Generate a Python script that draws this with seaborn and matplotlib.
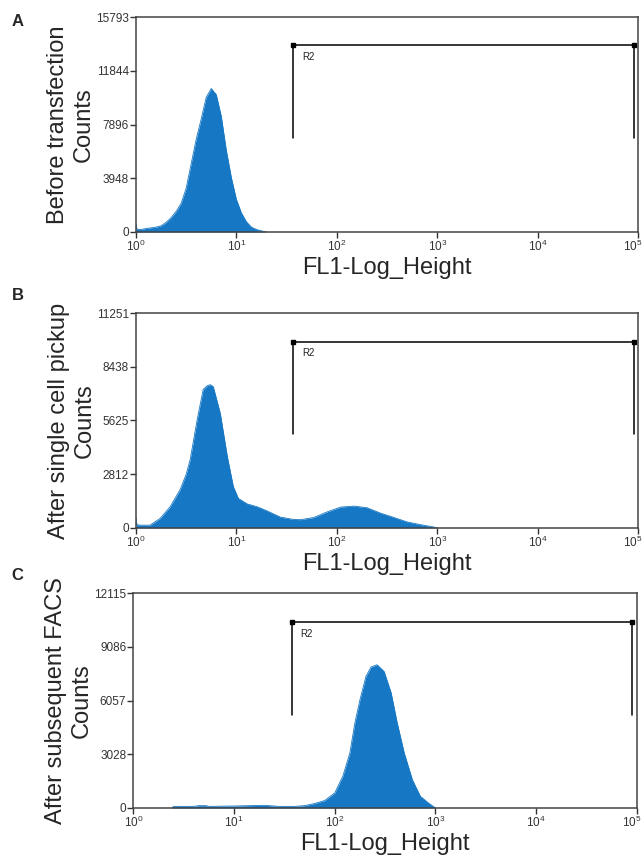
import numpy as np
import seaborn as sns
import matplotlib.pyplot as plt
import matplotlib.transforms as mtransforms

# histogram outlines: log10(FL1) and counts
a_log = [0.0, 0.01, 0.05, 0.10, 0.15, 0.20, 0.25, 0.30, 0.35, 0.40, 0.45, 0.50, 0.55, 0.60,
         0.65, 0.70, 0.75, 0.80, 0.85, 0.90, 0.95, 1.00, 1.05, 1.10, 1.15, 1.20, 1.25, 1.30]
a_cnt = [600, 200, 180, 250, 300, 350, 450, 700, 1050, 1500, 2100, 3200, 5000, 6800,
         8300, 9900, 10550, 10100, 8500, 6000, 4000, 2400, 1400, 750, 350, 180, 80, 0]

b_log = [0.0, 0.01, 0.05, 0.14, 0.24, 0.34, 0.44, 0.50, 0.54, 0.61, 0.67, 0.71, 0.74, 0.77,
         0.84, 0.91, 0.97, 1.02, 1.11, 1.21, 1.30, 1.44, 1.57, 1.64, 1.77, 1.90, 2.04, 2.17,
         2.30, 2.43, 2.57, 2.70, 2.83, 2.96, 3.0]
b_cnt = [540, 160, 140, 140, 490, 1100, 2000, 2800, 3560, 5670, 7250, 7450, 7500, 7400,
         6000, 3740, 2160, 1540, 1250, 1100, 900, 560, 440, 430, 540, 830, 1090, 1140,
         1055, 780, 540, 310, 170, 50, 0]

c_log = [0.38, 0.40, 0.60, 0.65, 0.72, 0.75, 1.00, 1.30, 1.45, 1.60, 1.70, 1.80, 1.90, 2.00,
         2.08, 2.15, 2.20, 2.25, 2.31, 2.36, 2.42, 2.49, 2.56, 2.62, 2.69, 2.77, 2.85, 2.93, 3.0]
c_cnt = [0, 90, 90, 130, 130, 90, 110, 150, 90, 90, 130, 250, 420, 850,
         1790, 3100, 4800, 6100, 7430, 7950, 8080, 7700, 6490, 4800, 3100, 1600, 660, 280, 0]

panel_letters = ["A", "B", "C"]
row_titles = ["Before transfection", "After single cell pickup", "After subsequent FACS"]
y_tops = [15793, 11251, 12115]
y_ticks = [[0, 3948, 7896, 11844, 15793],
           [0, 2812, 5625, 8438, 11251],
           [0, 3028, 6057, 9086, 12115]]
gate_x = [[37, 91000], [37, 91000], [37.4, 90200]]
gate_y = [[6905, 13736], [4917, 9761], [5257, 10514]]
x_ticks = [1, 10, 100, 1000, 10000, 100000]
x_ticklabels = [r"$\mathregular{10^{%d}}$" % i for i in range(6)]

sns.set_style("ticks")
plt.rcParams['font.family'] = ['Liberation Sans', 'DejaVu Sans']
plt.rcParams['mathtext.fontset'] = 'custom'
plt.rcParams['mathtext.rm'] = 'Liberation Sans'

fill_col = "#1677c4"
fig = plt.figure(figsize=(6.44, 8.59), dpi=100)
positions = [[0.211, 0.730, 0.780, 0.250],
             [0.211, 0.3855, 0.780, 0.250],
             [0.207, 0.0594, 0.782, 0.250]]
letter_y = [1 - 21 / 859, 1 - 296 / 859, 1 - 576 / 859]
hists = [(a_log, a_cnt), (b_log, b_cnt), (c_log, c_cnt)]

for i in range(3):
    ax = fig.add_axes(positions[i])
    lg, cnt = hists[i]
    xs = 10 ** np.array(lg)
    sns.lineplot(x=xs, y=cnt, ax=ax, color=fill_col, lw=0.6, sort=False)
    ax.fill_between(xs, 0, cnt, color=fill_col, lw=0)
    ax.set_xscale("log")
    ax.set_xlim(1, 1e5)
    ax.set_ylim(0, y_tops[i])
    ax.set_xticks(x_ticks)
    ax.set_xticklabels(x_ticklabels)
    ax.minorticks_off()
    ax.set_yticks(y_ticks[i])
    ax.set_yticklabels([str(v) for v in y_ticks[i]])
    ax.tick_params(axis="both", labelsize=8.5, colors="#333333", length=4, width=1, pad=1)
    # keep the 10^5 label inside the figure
    last = ax.get_xticklabels()[-1]
    last.set_transform(last.get_transform() + mtransforms.ScaledTranslation(-5 / 100, 0, fig.dpi_scale_trans))
    for s in ax.spines.values():
        s.set_color("#444444")
        s.set_linewidth(1.1)

    # R2 gate
    gx, gy = gate_x[i], gate_y[i]
    ax.plot([gx[0], gx[0], gx[1], gx[1]], [gy[0], gy[1], gy[1], gy[0]], color="black", lw=1.1)
    ax.plot(gx, [gy[1], gy[1]], "s", color="black", ms=3)
    ax.annotate("R2", (gx[0], gy[1]), xytext=(6, -5), textcoords="offset points",
                fontsize=7, va="top", ha="left", color="#222222")

    ax.set_xlabel("FL1-Log_Height", fontsize=17, labelpad=2)
    ax.set_ylabel(row_titles[i] + "\nCounts", fontsize=17, labelpad=1)
    fig.text(0.018, letter_y[i], panel_letters[i], fontsize=12, fontweight="bold",
             va="center", ha="left")

fig.savefig("out.png", dpi=100)
